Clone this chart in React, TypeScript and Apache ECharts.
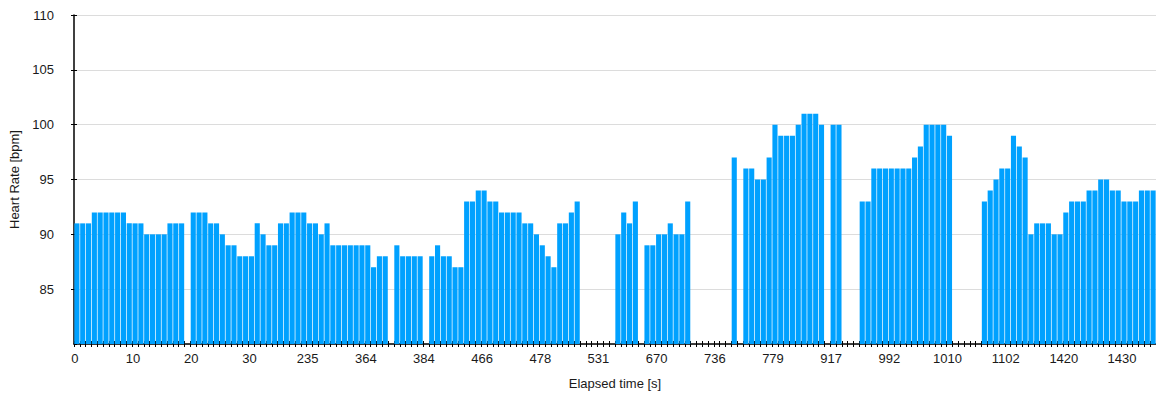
import React, { useEffect, useRef } from "react";
import * as echarts from "echarts";

// Heart rate per sample (null = no reading)
const heartRate: (number | null)[] = [
  91, 91, 91, 92, 92, 92, 92, 92, 92, 91,
  91, 91, 90, 90, 90, 90, 91, 91, 91, null,
  92, 92, 92, 91, 91, 90, 89, 89, 88, 88,
  88, 91, 90, 89, 89, 91, 91, 92, 92, 92,
  91, 91, 90, 91, 89, 89, 89, 89, 89, 89,
  89, 87, 88, 88, null, 89, 88, 88, 88, 88,
  null, 88, 89, 88, 88, 87, 87, 93, 93, 94,
  94, 93, 93, 92, 92, 92, 92, 91, 91, 90,
  89, 88, 87, 91, 91, 92, 93, null, null, null,
  null, null, null, 90, 92, 91, 93, null, 89, 89,
  90, 90, 91, 90, 90, 93, null, null, null, null,
  null, null, null, 97, null, 96, 96, 95, 95, 97,
  100, 99, 99, 99, 100, 101, 101, 101, 100, null,
  100, 100, null, null, null, 93, 93, 96, 96, 96,
  96, 96, 96, 96, 97, 98, 100, 100, 100, 100,
  99, null, null, null, null, null, 93, 94, 95, 96,
  96, 99, 98, 97, 90, 91, 91, 91, 90, 90,
  92, 93, 93, 93, 94, 94, 95, 95, 94, 94,
  93, 93, 93, 94, 94, 94,
];

// Elapsed-time labels shown on every 10th sample
const tickLabels: string[] = [
  "0", "10", "20", "30", "235", "364", "384", "466", "478", "531",
  "670", "736", "779", "917", "992", "1010", "1102", "1420", "1430",
];

const yTicks = { min: 80, max: 110, step: 5 };

const FONT = "Liberation Sans, Arial, Helvetica, sans-serif";

export default function App() {
  const ref = useRef<HTMLDivElement>(null);

  useEffect(() => {
    if (!ref.current) return;
    const chart = echarts.init(ref.current, undefined, { renderer: "svg" });
    const cats = heartRate.map((_, i) => String(i));
    const labelFor = (_v: string, idx: number) =>
      idx % 10 === 0 && tickLabels[idx / 10] !== undefined ? tickLabels[idx / 10] : "";

    chart.setOption({
      animation: false,
      grid: { left: 74, right: 0, top: 15, bottom: 51, containLabel: false },
      xAxis: [
        {
          type: "category",
          data: cats,
          boundaryGap: true,
          axisLine: { show: true, lineStyle: { color: "#000", width: 1.5 } },
          axisTick: { show: true, interval: 0, length: 3, lineStyle: { color: "#000", width: 1 } },
          axisLabel: {
            interval: 9,
            formatter: labelFor,
            color: "#1a1a1a",
            fontSize: 13,
            fontFamily: FONT,
            margin: 8,
            padding: [0, 4, 0, 0],
          },
          splitLine: { show: false },
          name: "Elapsed time [s]",
          nameLocation: "middle",
          nameGap: 33,
          nameTextStyle: { color: "#1a1a1a", fontSize: 13, fontFamily: FONT },
        },
        {
          type: "category",
          data: cats,
          boundaryGap: true,
          position: "bottom",
          axisLine: { show: false },
          axisTick: { show: true, inside: true, interval: 0, length: 3, lineStyle: { color: "#000", width: 1 } },
          axisLabel: { show: false },
          splitLine: { show: false },
        },
      ],
      yAxis: [
        {
          type: "value",
          min: yTicks.min,
          max: yTicks.max,
          interval: yTicks.step,
          axisLine: { show: true, lineStyle: { color: "#000", width: 1.5 } },
          axisTick: { show: true, length: 3, lineStyle: { color: "#000" } },
          axisLabel: {
            showMinLabel: false,
            color: "#1a1a1a",
            fontSize: 13,
            fontFamily: FONT,
            margin: 20,
          },
          splitLine: { show: true, lineStyle: { color: "#dcdcdc", width: 1 } },
          name: "Heart Rate [bpm]",
          nameLocation: "middle",
          nameGap: 51,
          nameRotate: 90,
          nameTextStyle: { color: "#1a1a1a", fontSize: 13, fontFamily: FONT },
        },
        {
          type: "value",
          min: yTicks.min,
          max: yTicks.max,
          interval: yTicks.step,
          position: "left",
          axisLine: { show: false },
          axisTick: { show: true, inside: true, length: 3, lineStyle: { color: "#000" } },
          axisLabel: { show: false },
          splitLine: { show: false },
        },
      ],
      series: [
        {
          type: "bar",
          data: heartRate,
          xAxisIndex: 0,
          yAxisIndex: 0,
          barCategoryGap: "12%",
          itemStyle: { color: "#00A1FF" },
          z: 3,
        },
      ],
    });
    return () => chart.dispose();
  }, []);

  return (
    <div
      ref={ref}
      style={{ position: "fixed", left: 0, top: 0, width: 1156, height: 395, background: "#fff" }}
    />
  );
}
